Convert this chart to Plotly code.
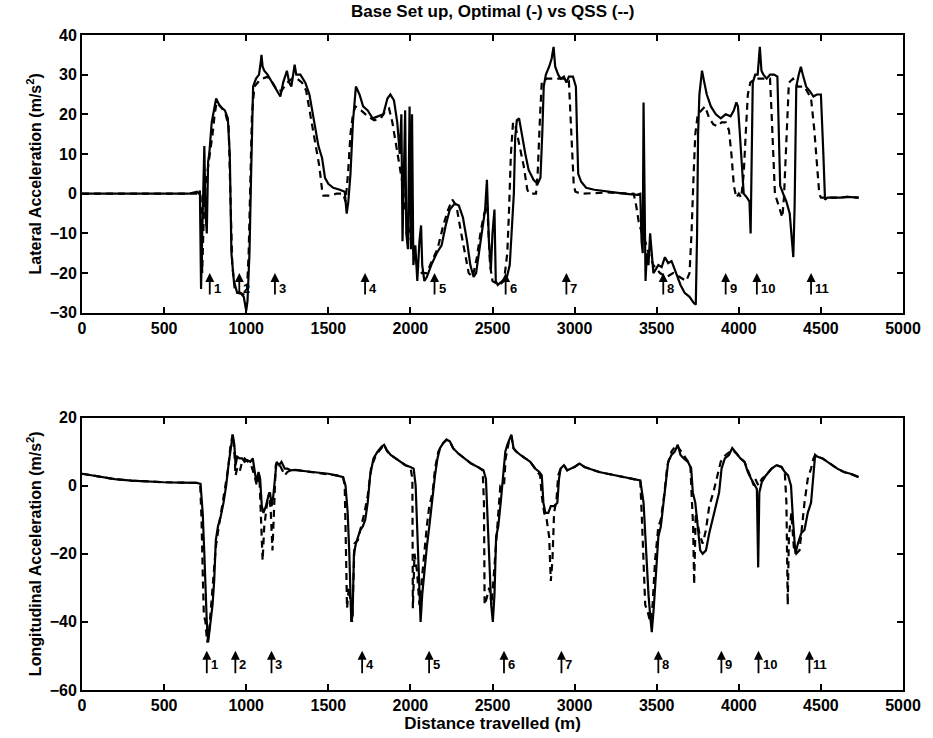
import plotly.graph_objects as go

# ---------------- Lateral acceleration (top) ----------------
lat_opt_x = [0, 650, 700, 712, 718, 725, 735, 745, 752, 760, 768, 775, 790, 805, 817, 840, 870, 888, 900, 910, 925, 945, 965, 985, 995, 1000, 1008, 1020, 1030, 1042, 1060, 1078, 1088, 1093, 1100, 1110, 1130, 1160, 1190, 1208, 1225, 1248, 1262, 1275, 1295, 1305, 1330, 1360, 1385, 1410, 1440, 1462, 1480, 1500, 1530, 1570, 1600, 1612, 1622, 1635, 1650, 1668, 1690, 1712, 1740, 1770, 1800, 1835, 1860, 1878, 1900, 1920, 1935, 1945, 1952, 1960, 1968, 1975, 1985, 1995, 2003, 2010, 2018, 2030, 2042, 2055, 2065, 2072, 2085, 2100, 2127, 2160, 2190, 2215, 2240, 2270, 2295, 2320, 2345, 2365, 2385, 2400, 2420, 2440, 2455, 2466, 2478, 2490, 2500, 2512, 2520, 2532, 2560, 2588, 2605, 2618, 2630, 2638, 2648, 2662, 2678, 2700, 2720, 2750, 2775, 2792, 2803, 2812, 2825, 2845, 2860, 2872, 2882, 2900, 2915, 2935, 2950, 2965, 2990, 3008, 3015, 3022, 3040, 3070, 3120, 3200, 3300, 3380, 3400, 3408, 3415, 3420, 3427, 3432, 3440, 3450, 3460, 3470, 3480, 3495, 3510, 3530, 3550, 3570, 3590, 3600, 3620, 3645, 3670, 3700, 3725, 3738, 3746, 3752, 3760, 3776, 3790, 3805, 3830, 3860, 3890, 3920, 3950, 3970, 3985, 3995, 4005, 4020, 4030, 4050, 4065, 4072, 4078, 4085, 4100, 4115, 4128, 4138, 4150, 4170, 4190, 4215, 4235, 4245, 4252, 4270, 4290, 4310, 4322, 4332, 4340, 4350, 4365, 4378, 4390, 4410, 4430, 4455, 4475, 4500, 4515, 4525, 4540, 4580, 4620, 4660, 4700, 4730]
lat_opt_y = [0, 0, 0.5, 0, 0.8, -24, -5, 12, -5, -10, 8, 10, 18, 22, 24, 22, 21, 19, 10, -15, -22, -25, -25, -26, -28, -29.5, -27, -15, 5, 27, 29, 30, 33, 35, 32, 31, 30, 28, 26, 24.5, 28, 31, 28, 27, 32.5, 30, 30, 28, 25, 19, 12, 9, 4, 2.5, 1.5, 1, 0.5, -5, -2, 5, 18, 27, 25, 22, 21, 19, 19.5, 20, 24, 25, 23.5, 18, 10, 20, -12, 5, 21, -10, -14, 22, -14, 20, -18, -13, -22, -12, -8, -18, -22, -21, -18, -15, -13, -8, -4, -2.5, -3, -6, -12, -18, -21, -20, -14, -8, -4, 3.5, -12, -19, -10, -4, -22, -23, -22, -21, -18, -10, 0, 14, 18.5, 19, 15, 10, 6, 3.5, 2.5, 4, 15, 27, 30, 32, 34, 37, 32, 30, 29, 29.5, 28, 29.5, 29.5, 27, 15, 5, 3, 1.5, 1, 0.5, 0, -0.3, 0, -12, -15, 23, 0, -22, -15, -18, -10, -16, -20, -19, -18, -18.5, -16, -17.5, -17, -18, -20, -23, -25, -26, -27.5, -28, -10, 15, 25, 31, 28, 25, 22, 20, 19, 20, 19.5, 21, 23, 22, 16, 5, 0, -1, -2, -10, 10, 28, 30, 30, 37, 31, 30, 29, 30, 30, 29.5, 10, 2, 0, -2, -5, -10, -16, -3, 27, 30, 32, 30, 27, 26, 24.5, 25, 25, 10, -1.5, -1, -1, -1, -0.8, -1, -1]

lat_qss_x = [0, 700, 722, 732, 742, 752, 762, 772, 782, 795, 808, 820, 845, 875, 893, 905, 915, 930, 960, 990, 1005, 1015, 1025, 1035, 1050, 1080, 1100, 1130, 1160, 1190, 1215, 1250, 1280, 1310, 1340, 1365, 1390, 1420, 1445, 1462, 1470, 1510, 1550, 1590, 1605, 1620, 1635, 1650, 1665, 1700, 1740, 1780, 1820, 1850, 1870, 1890, 1910, 1930, 1950, 1965, 1985, 2010, 2040, 2070, 2100, 2130, 2165, 2200, 2230, 2255, 2280, 2305, 2330, 2355, 2380, 2405, 2430, 2450, 2468, 2485, 2500, 2540, 2570, 2590, 2600, 2612, 2625, 2640, 2665, 2690, 2712, 2725, 2765, 2775, 2790, 2800, 2830, 2870, 2900, 2940, 2965, 2975, 2985, 2995, 3005, 3040, 3200, 3360, 3375, 3390, 3410, 3430, 3450, 3480, 3520, 3560, 3600, 3640, 3680, 3700, 3712, 3725, 3735, 3750, 3770, 3795, 3820, 3845, 3870, 3895, 3920, 3940, 3955, 3970, 3985, 4000, 4015, 4030, 4042, 4055, 4070, 4100, 4150, 4190, 4200, 4210, 4220, 4235, 4250, 4265, 4275, 4285, 4295, 4305, 4330, 4360, 4400, 4440, 4460, 4475, 4490, 4500, 4540, 4600, 4660, 4730]
lat_qss_y = [0, 0, 0, -20, -5, 2, 5, 8, 10, 15, 20, 23, 22, 20, 17, 0, -18, -24, -25, -25.5, -24, -15, 0, 20, 27, 28.5, 29, 29.5, 28, 26, 26, 28, 29, 29, 28, 26, 20, 13, 7, 1, -0.5, -0.5, 0, 0, -2, 5, 15, 20, 22, 21, 19.5, 18.5, 19, 21, 21.5, 18, 13, 8, 3, -3, -8, -13, -18, -20, -20, -17, -14, -8, -4, -1.5, -3, -9, -15, -20, -21, -16, -9, -5, -3, -18, -22, -23, -22, -15, -5, 10, 18, 17, 12, 7, 1, 0, 0, 5, 20, 28, 29, 29, 29, 29, 28.5, 20, 10, 2, 0.5, 0, 0.3, 0, -3, -7, -10, -12, -15, -18, -20, -21, -20, -21, -22, -20, -10, 5, 15, 20, 21, 22, 19, 17.5, 17, 18, 18, 16, 10, 2, -1, 0, -1, 5, 15, 25, 28, 29, 29, 29, 20, 8, 0, -2, -4, -6, -1, 10, 22, 28, 29, 27, 27, 24, 16, 8, 0, -1, -1, -1, -0.8, -1]

# ---------------- Longitudinal acceleration (bottom) ----------------
lon_opt_x = [0, 100, 200, 300, 400, 500, 600, 700, 722, 735, 745, 752, 760, 768, 775, 785, 795, 805, 815, 828, 845, 862, 878, 892, 905, 918, 928, 935, 945, 960, 975, 990, 1005, 1025, 1040, 1050, 1062, 1075, 1085, 1095, 1105, 1120, 1135, 1145, 1155, 1165, 1175, 1185, 1200, 1215, 1235, 1250, 1270, 1300, 1350, 1400, 1450, 1500, 1550, 1590, 1605, 1618, 1628, 1640, 1648, 1656, 1668, 1680, 1695, 1710, 1725, 1740, 1755, 1775, 1800, 1825, 1840, 1855, 1880, 1910, 1940, 1970, 2000, 2020, 2032, 2042, 2052, 2062, 2072, 2085, 2100, 2115, 2135, 2150, 2165, 2180, 2200, 2220, 2240, 2260, 2290, 2330, 2370, 2410, 2445, 2460, 2470, 2480, 2492, 2502, 2512, 2522, 2535, 2550, 2565, 2578, 2590, 2600, 2615, 2628, 2645, 2670, 2700, 2730, 2760, 2785, 2800, 2810, 2822, 2840, 2855, 2875, 2895, 2905, 2915, 2935, 2955, 2975, 3000, 3030, 3060, 3100, 3150, 3200, 3250, 3300, 3350, 3400, 3420, 3435, 3450, 3460, 3470, 3482, 3495, 3510, 3525, 3540, 3555, 3570, 3590, 3610, 3628, 3645, 3665, 3690, 3710, 3720, 3735, 3750, 3765, 3780, 3800, 3820, 3840, 3860, 3880, 3895, 3915, 3940, 3960, 3985, 4010, 4035, 4055, 4075, 4095, 4110, 4118, 4125, 4140, 4165, 4200, 4230, 4260, 4280, 4300, 4318, 4330, 4345, 4360, 4380, 4400, 4420, 4440, 4455, 4465, 4480, 4510, 4540, 4570, 4600, 4640, 4680, 4730]
lon_opt_y = [3.5, 2.6, 1.9, 1.5, 1.2, 1.0, 0.9, 0.8, 0.5, -8, -20, -32, -40, -46, -43, -38, -35, -28, -16, -12, -9, -5, 0, 6, 11, 15, 12, 6, 8.5, 8, 8, 7, 7.5, 7, 8, 4, 1, 4, 2, -6, -8, -6, -3, -2, -6, -3, 3, 7, 6, 7, 5, 5, 4.5, 4.6, 4.3, 4.1, 3.8, 3.5, 3.0, 2.5, 0, -8, -20, -40, -38, -20, -17, -15, -13, -12, -10, -5, 3, 8, 10, 11.5, 12, 10.5, 9, 8, 7, 6, 5.5, 5, 0, -15, -30, -40, -32, -25, -18, -12, -3, 3, 8, 11, 12.5, 13.5, 13, 11, 9.5, 8, 6.5, 5.5, 4.5, 2, -10, -25, -35, -40, -32, -15, -12, -5, 2, 10, 12, 13, 15, 11, 10, 9, 8, 7, 5, 4, 3, -5, -8, -8, -6, -6, -5, 2, 5, 6, 4.5, 5, 5.5, 6.5, 5.5, 4.8, 4, 3.5, 3, 2.5, 2, 1.5, -5, -20, -32, -38, -43, -36, -25, -15, -12, -5, 2, 7, 9, 10, 12, 9, 8, 7, 5, -2, -5, -12, -19, -20, -19, -14, -10, -6, -2, 5, 8, 9, 11, 9.5, 8, 7, 4, 2, 0.5, -1, -24, -2, 1, 3, 5, 6, 5.5, 4, 3, 0, -10, -20, -17, -14, -13, -8, -5, 3, 9, 8.5, 8, 7, 6, 5, 4, 3.5, 2.5]

lon_qss_x = [0, 100, 200, 300, 400, 500, 600, 700, 720, 728, 735, 742, 752, 762, 772, 785, 800, 815, 830, 850, 870, 890, 905, 918, 928, 935, 945, 960, 975, 990, 1010, 1030, 1050, 1065, 1080, 1092, 1100, 1110, 1125, 1140, 1150, 1160, 1170, 1180, 1195, 1215, 1235, 1250, 1270, 1300, 1350, 1400, 1450, 1500, 1550, 1590, 1600, 1608, 1614, 1625, 1638, 1645, 1652, 1660, 1680, 1700, 1720, 1740, 1760, 1790, 1820, 1840, 1860, 1880, 1910, 1940, 1970, 2000, 2012, 2015, 2025, 2040, 2055, 2065, 2080, 2100, 2115, 2135, 2150, 2170, 2200, 2220, 2240, 2260, 2290, 2330, 2370, 2410, 2440, 2448, 2452, 2465, 2480, 2495, 2510, 2525, 2540, 2548, 2570, 2580, 2600, 2615, 2628, 2645, 2670, 2700, 2730, 2760, 2790, 2800, 2815, 2830, 2845, 2855, 2865, 2875, 2890, 2900, 2915, 2935, 2955, 2975, 3000, 3030, 3060, 3100, 3150, 3200, 3250, 3300, 3350, 3400, 3410, 3420, 3430, 3445, 3460, 3475, 3490, 3510, 3525, 3545, 3565, 3590, 3620, 3650, 3680, 3705, 3712, 3722, 3728, 3738, 3760, 3780, 3800, 3820, 3845, 3870, 3890, 3920, 3960, 3985, 4010, 4035, 4060, 4080, 4092, 4100, 4120, 4140, 4165, 4200, 4230, 4260, 4280, 4290, 4298, 4305, 4320, 4335, 4350, 4370, 4385, 4400, 4420, 4440, 4455, 4465, 4480, 4510, 4540, 4570, 4600, 4640, 4680, 4730]
lon_qss_y = [3.5, 2.6, 1.9, 1.5, 1.2, 1.0, 0.9, 0.8, 0.2, -10, -25, -38, -40, -46, -44, -36, -25, -18, -13, -7, -2, 5, 12, 15, 10, 3, 5, 4, 7, 8, 7, 6, 3, 0, 3, -10, -22, -12, -6, -2, -8, -19, -5, 6, 7, 5, 3, 4, 4.5, 4.6, 4.3, 4.1, 3.8, 3.5, 3.0, 2.5, 0, -20, -36, -30, -35, -40, -30, -17, -16, -12, -8, -3, 5, 9, 11, 12, 10, 9, 8, 7, 6, 5.5, 2, -36, -20, -25, -35, -30, -22, -12, -6, -2, 5, 10, 12.5, 13.5, 13, 11, 9.5, 8, 6.5, 5.5, 4.5, -5, -35, -33, -30, -35, -25, -12, -5, 0, 0, 8, 13, 14.5, 11, 10, 9, 8, 7, 5, 3, -3, -8, -10, -15, -28, -22, -8, -4, 3, 5, 6, 4.5, 5, 5.5, 6.5, 5.5, 4.8, 4, 3.5, 3, 2.5, 2, 1.5, -10, -25, -35, -37, -40, -35, -22, -12, -10, -3, 6, 10, 12, 10, 8, 6, -2, -12, -29, -8, -14, -17, -13, -6, -2, 3, 7, 9, 10.5, 9.5, 8, 7, 4, 2, 0, 2, 0, 2, 3, 5, 6, 5.5, 4, -5, -35, -15, -8, -18, -20, -19, -12, -5, 2, 5, 8, 9, 8.5, 8, 7, 6, 5, 4, 3.5, 2.5]

# ---------------- Corner markers ----------------
corner_labels = ["1", "2", "3", "4", "5", "6", "7", "8", "9", "10", "11"]
corner_x_lat = [778, 958, 1175, 1724, 2147, 2580, 2950, 3540, 3920, 4110, 4440]
corner_x_lon = [760, 934, 1154, 1706, 2114, 2570, 2920, 3510, 3894, 4120, 4430]

title_text = "Base Set up, Optimal (-) vs QSS (--)"
lat_label = "Lateral Acceleration (m/s<sup>2</sup>)"
lon_label = "Longitudinal Acceleration (m/s<sup>2</sup>)"
x_label = "Distance travelled (m)"
x_ticks = [0, 500, 1000, 1500, 2000, 2500, 3000, 3500, 4000, 4500, 5000]
lat_ticks = [-30, -20, -10, 0, 10, 20, 30, 40]
lon_ticks = [-60, -40, -20, 0, 20]

FONT = "Liberation Sans, Arial, Helvetica, sans-serif"
line_style = dict(color="black", width=2.2)
dash_style = dict(color="black", width=2.2, dash="7px,5px")

fig = go.Figure()
fig.add_trace(go.Scatter(x=lat_qss_x, y=lat_qss_y, mode="lines", line=dash_style,
                         xaxis="x", yaxis="y", showlegend=False))
fig.add_trace(go.Scatter(x=lat_opt_x, y=lat_opt_y, mode="lines", line=line_style,
                         xaxis="x", yaxis="y", showlegend=False))
fig.add_trace(go.Scatter(x=lon_qss_x, y=lon_qss_y, mode="lines", line=dash_style,
                         xaxis="x2", yaxis="y2", showlegend=False))
fig.add_trace(go.Scatter(x=lon_opt_x, y=lon_opt_y, mode="lines", line=line_style,
                         xaxis="x2", yaxis="y2", showlegend=False))

lab_font = dict(family=FONT, size=13, color="black", weight="bold")
annotations = []
for lab, xv in zip(corner_labels, corner_x_lat):
    annotations.append(dict(x=xv, y=-20, ax=xv, ay=-25.8, xref="x", yref="y",
                            axref="x", ayref="y", text="", showarrow=True,
                            arrowhead=2, arrowsize=1, arrowwidth=1.8, arrowcolor="black"))
    annotations.append(dict(x=xv, y=-24, xref="x", yref="y", text=lab,
                            showarrow=False, xanchor="left", xshift=2, font=lab_font))
for lab, xv in zip(corner_labels, corner_x_lon):
    annotations.append(dict(x=xv, y=-48.5, ax=xv, ay=-55.5, xref="x2", yref="y2",
                            axref="x2", ayref="y2", text="", showarrow=True,
                            arrowhead=2, arrowsize=1, arrowwidth=1.8, arrowcolor="black"))
    annotations.append(dict(x=xv, y=-52.5, xref="x2", yref="y2", text=lab,
                            showarrow=False, xanchor="left", xshift=2, font=lab_font))
annotations.append(dict(x=0.5, y=1, xref="paper", yref="paper", yshift=12,
                        text=title_text, showarrow=False, yanchor="bottom",
                        font=dict(family=FONT, size=17, color="black", weight="bold")))

axis_common = dict(showgrid=False, zeroline=False, showline=True, linecolor="black",
                   linewidth=2, mirror="ticks", ticks="inside", ticklen=6,
                   tickwidth=1.5, tickcolor="black",
                   tickfont=dict(family=FONT, size=16, color="black", weight="bold"))
title_font = dict(family=FONT, size=16, color="black", weight="bold")

fig.update_layout(
    width=933, height=738,
    margin=dict(l=82, r=20, t=35, b=47),
    paper_bgcolor="white", plot_bgcolor="white",
    font=dict(family=FONT, color="black"),
    xaxis=dict(domain=[0, 1], range=[0, 5000], tickvals=x_ticks, anchor="y", **axis_common),
    yaxis=dict(domain=[0.576, 1], range=[-30, 40], tickvals=lat_ticks, anchor="x",
               title=dict(text=lat_label, standoff=4, font=title_font), **axis_common),
    xaxis2=dict(domain=[0, 1], range=[0, 5000], tickvals=x_ticks, anchor="y2",
                title=dict(text=x_label, standoff=0,
                           font=dict(family=FONT, size=17, color="black", weight="bold")),
                **axis_common),
    yaxis2=dict(domain=[0, 0.416], range=[-60, 20], tickvals=lon_ticks, anchor="x2",
                title=dict(text=lon_label, standoff=4, font=title_font), **axis_common),
    annotations=annotations,
)

fig.write_html("out.html")
